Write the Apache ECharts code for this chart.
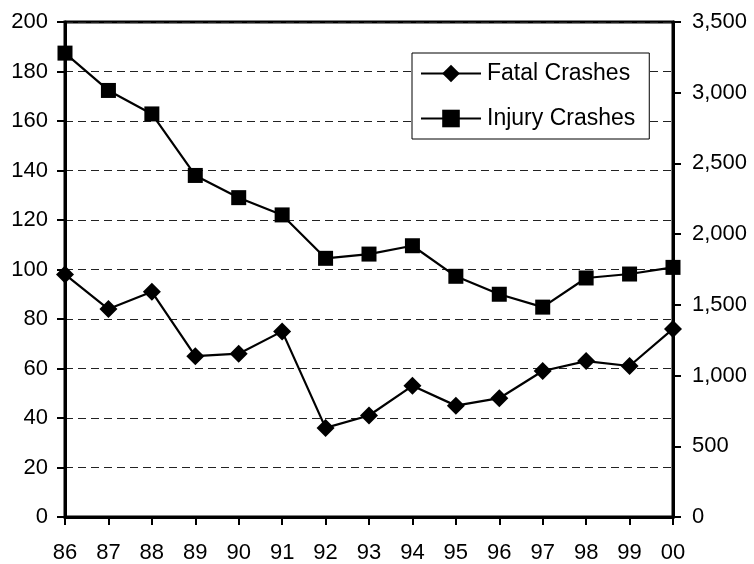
<!DOCTYPE html>
<html>
<head>
<meta charset="utf-8">
<script src="https://cdn.jsdelivr.net/npm/echarts@6/dist/echarts.min.js"></script>
<style>
  html, body { margin: 0; padding: 0; background: #fff; }
  #chart { width: 754px; height: 564px; }
</style>
</head>
<body>
<div id="chart"></div>
<script>
// Crash counts by year (fatal on left axis, injury on right axis)
const years = ['86', '87', '88', '89', '90', '91', '92', '93', '94', '95', '96', '97', '98', '99', '00'];
const fatalCrashes = [98, 84, 91, 65, 66, 75, 36, 41, 53, 45, 48, 59, 63, 61, 76];
const injuryCrashes = [3280, 3016, 2850, 2415, 2258, 2136, 1829, 1859, 1918, 1702, 1575, 1484, 1690, 1718, 1765];

const FONT = "'Liberation Sans', Arial, sans-serif";
const labelStyle = { color: '#000', fontSize: 22, fontFamily: FONT };

const chart = echarts.init(document.getElementById('chart'), null, { renderer: 'canvas' });

chart.setOption({
  animation: false,
  backgroundColor: '#fff',
  grid: {
    left: 65, right: 81, top: 22, bottom: 45,
    show: true, borderColor: '#000', borderWidth: 3, backgroundColor: 'transparent'
  },
  legend: {
    orient: 'vertical',
    left: 412, top: 53,
    padding: [9, 14, 9, 8],
    itemGap: 22,
    itemWidth: 60,
    itemHeight: 22,
    backgroundColor: '#fff',
    borderColor: '#000',
    borderWidth: 1,
    textStyle: { color: '#000', fontSize: 23, fontFamily: FONT, padding: [0, 0, 0, 1] },
    data: ['Fatal Crashes', 'Injury Crashes']
  },
  xAxis: {
    type: 'category',
    data: years,
    boundaryGap: false,
    axisLine: { show: true, lineStyle: { color: '#000', width: 3 } },
    axisTick: { show: true, alignWithLabel: true, length: 8, lineStyle: { color: '#000', width: 2 } },
    axisLabel: Object.assign({ margin: 25, interval: 0 }, labelStyle),
    splitLine: { show: false }
  },
  yAxis: [
    {
      type: 'value',
      min: 0, max: 200, interval: 20,
      axisLine: { show: true, lineStyle: { color: '#000', width: 3 } },
      axisTick: { show: true, length: 8, lineStyle: { color: '#000', width: 2 } },
      axisLabel: Object.assign({ margin: 17 }, labelStyle),
      splitLine: { show: true, lineStyle: { color: '#222', width: 1, type: [8, 5] } }
    },
    {
      type: 'value',
      position: 'right',
      min: 0, max: 3500, interval: 500,
      axisLine: { show: true, lineStyle: { color: '#000', width: 3 } },
      axisTick: { show: true, length: 8, lineStyle: { color: '#000', width: 2 } },
      axisLabel: Object.assign({
        margin: 19,
        formatter: v => v.toLocaleString('en-US')
      }, labelStyle),
      splitLine: { show: false }
    }
  ],
  series: [
    {
      name: 'Fatal Crashes',
      type: 'line',
      yAxisIndex: 0,
      data: fatalCrashes,
      symbol: 'diamond',
      symbolSize: 18,
      clip: false,
      lineStyle: { color: '#000', width: 2.2 },
      itemStyle: { color: '#000' },
      z: 3
    },
    {
      name: 'Injury Crashes',
      type: 'line',
      yAxisIndex: 1,
      data: injuryCrashes,
      symbol: 'rect',
      symbolSize: 15,
      clip: false,
      lineStyle: { color: '#000', width: 2.2 },
      itemStyle: { color: '#000' },
      z: 3
    }
  ]
});
</script>
</body>
</html>
